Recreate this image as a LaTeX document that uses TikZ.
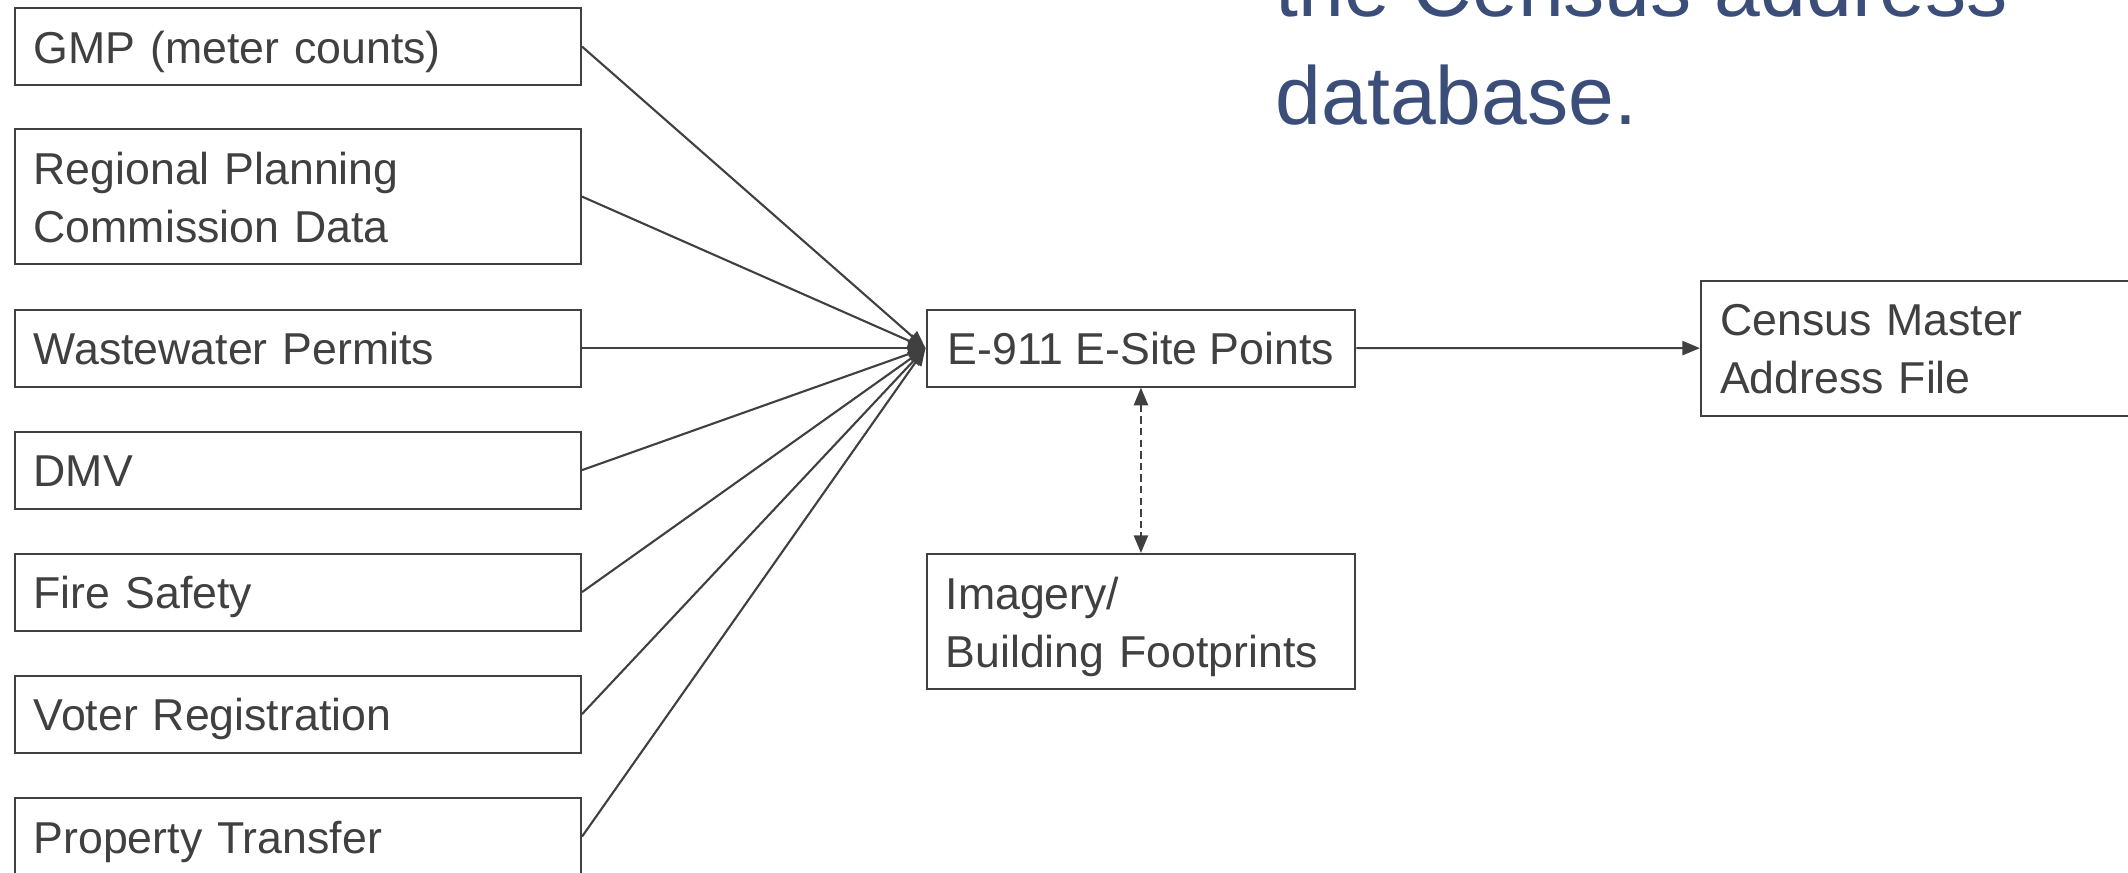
\documentclass[tikz,border=0pt]{standalone}
\usepackage{fontspec}
\setmainfont{Liberation Sans}
\usetikzlibrary{arrows.meta}

\definecolor{inkgray}{RGB}{64,64,64}
\definecolor{titleblue}{RGB}{59,78,122}

\begin{document}
\begin{tikzpicture}[x=0.01cm, y=-0.01cm, >={Triangle[length=5pt,width=4pt]},
  box/.style={draw=inkgray, line width=0.6pt, text=inkgray, anchor=north west,
    inner xsep=0.19cm, inner ysep=0pt, align=left, text height=0.33cm,
    font=\fontsize{12.7}{16.5}\selectfont},
  oneline/.style={text depth=0pt, minimum height=0.77cm},
  twoline/.style={text depth=0.58cm},
  src/.style={box, minimum width=5.66cm, text width=5.28cm},
  mid/.style={box, minimum width=4.285cm},
  feed/.style={draw=inkgray, line width=0.6pt},
  title/.style={text=titleblue, anchor=base west, inner sep=0pt,
    font=\fontsize{23.4}{30}\selectfont}]
\clip (0, 0) rectangle (2128, 872);

% sources
\node [src, oneline] (gmp) at (13.6, 7) {GMP (meter counts)};
\node [src, twoline, minimum height=1.35cm] (rpc) at (13.6, 128) {Regional Planning\\Commission Data};
\node [src, oneline] (wastewater) at (13.6, 308.5) {Wastewater Permits};
\node [src, oneline] (dmv) at (13.6, 430.5) {DMV};
\node [src, oneline] (fire) at (13.6, 552.5) {Fire Safety};
\node [src, oneline] (voter) at (13.6, 674.5) {Voter Registration};
\node [src, oneline] (property) at (13.6, 797) {Property Transfer};

% middle and target
\node [mid, oneline, inner xsep=0.17cm] (esite) at (925.5, 308.5) {E-911 E-Site Points};
\node [mid, twoline, text width=3.905cm, minimum height=1.35cm] (imagery) at (925.5, 553) {Imagery/\\Building Footprints};
\node [box, twoline, minimum width=4.6cm, text width=4.22cm, minimum height=1.35cm] (census) at (1700, 279.5) {Census Master\\Address File};

% heading text, cut at the top
\node [title] (tline1) at (1275, 16) {the Census address};
\node [title] (tline2) at (1275, 124) {database.};

\draw [feed, ->] (gmp.east) -- (esite.west);
\draw [feed, ->] (rpc.east) -- (esite.west);
\draw [feed, ->] (wastewater.east) -- (esite.west);
\draw [feed, ->] (dmv.east) -- (esite.west);
\draw [feed, ->] (fire.east) -- (esite.west);
\draw [feed, ->] (voter.east) -- (esite.west);
\draw [feed, ->] (property.east) -- (esite.west);

\draw [feed, ->] (esite.east) -- (census.west);
\draw [feed, <->, dash pattern=on 2.1pt off 1.2pt] (esite.south) -- (imagery.north);

\end{tikzpicture}
\end{document}
